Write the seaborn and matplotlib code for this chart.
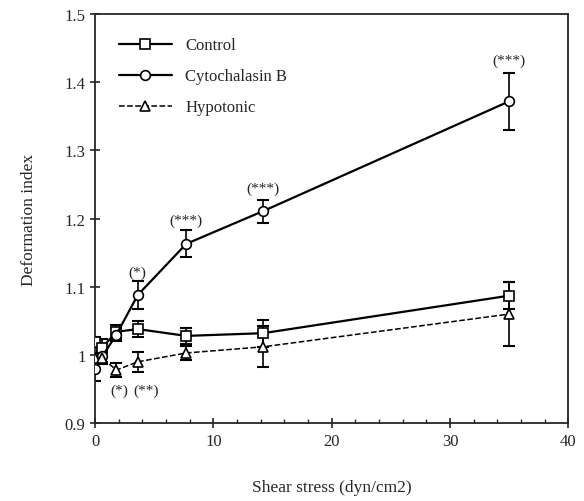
import numpy as np
import pandas as pd
import seaborn as sns
import matplotlib.pyplot as plt
from matplotlib.ticker import MultipleLocator, FuncFormatter

# shear stress values (dyn/cm2)
shear = [0, 0.6, 1.8, 3.6, 7.7, 14.2, 35]

control = [1.019, 1.011, 1.034, 1.038, 1.028, 1.032, 1.087]
control_err = [0.008, 0.012, 0.01, 0.012, 0.012, 0.02, 0.02]

cyto = [0.98, 0.998, 1.03, 1.088, 1.163, 1.211, 1.372]
cyto_err = [0.018, 0.008, 0.01, 0.02, 0.02, 0.017, 0.042]

hypo = [0.995, 0.995, 0.978, 0.99, 1.003, 1.012, 1.06]
hypo_err = [0.008, 0.008, 0.01, 0.015, 0.01, 0.03, 0.047]

# significance marks: (label, x, y)
stars = [("(*)", 3.6, 1.122), ("(***)", 7.7, 1.198), ("(***)", 14.2, 1.245),
         ("(***)", 35, 1.432), ("(*)", 2.0, 0.948), ("(**)", 4.3, 0.948)]

sns.set_style("ticks")
plt.rcParams['font.family'] = ['Liberation Serif', 'DejaVu Serif']

df = pd.DataFrame({
    "shear": shear * 3,
    "di": control + cyto + hypo,
    "err": control_err + cyto_err + hypo_err,
    "group": ["Control"] * 7 + ["Cytochalasin B"] * 7 + ["Hypotonic"] * 7,
})

fig = plt.figure(figsize=(5.84, 5.02), dpi=100)
ax = fig.add_axes([0.163, 0.155, 0.81, 0.815])

styles = {"Control": ("s", "-"), "Cytochalasin B": ("o", "-"), "Hypotonic": ("^", "--")}
for name, (mk, ls) in styles.items():
    sub = df[df.group == name]
    ax.errorbar(sub.shear, sub.di, yerr=sub.err, fmt="none", ecolor="black",
                elinewidth=1.2, capsize=4, capthick=1.5, zorder=2)
    sns.lineplot(data=sub, x="shear", y="di", ax=ax, color="black", marker=mk,
                 linestyle=ls, linewidth=1.6 if ls == "-" else 1.1,
                 markersize=7, markerfacecolor="white", markeredgecolor="black",
                 markeredgewidth=1.2, label=name, zorder=3)

for txt, x, y in stars:
    ax.text(x, y, txt, ha="center", va="center", fontsize=11)

ax.set_xlim(0, 40)
ax.set_ylim(0.9, 1.5)
ax.xaxis.set_major_locator(MultipleLocator(10))
ax.xaxis.set_minor_locator(MultipleLocator(2))
ax.yaxis.set_major_locator(MultipleLocator(0.1))
ax.yaxis.set_major_formatter(FuncFormatter(lambda v, p: "1" if abs(v - 1) < 1e-9 else f"{v:.1f}"))
ax.tick_params(which="major", direction="inout", length=7, width=1.2, labelsize=12)
ax.tick_params(which="minor", direction="in", length=3, width=1)
for s in ax.spines.values():
    s.set_linewidth(1.3)

ax.set_xlabel("Shear stress (dyn/cm2)", fontsize=12.5, labelpad=22)
ax.set_ylabel("Deformation index", fontsize=12.5, labelpad=20)

leg = ax.legend(loc="upper left", frameon=False, fontsize=12, handlelength=3.2,
                labelspacing=0.9, borderaxespad=1.0, bbox_to_anchor=(0.0, 1.0))

plt.savefig("out.png", dpi=100)
